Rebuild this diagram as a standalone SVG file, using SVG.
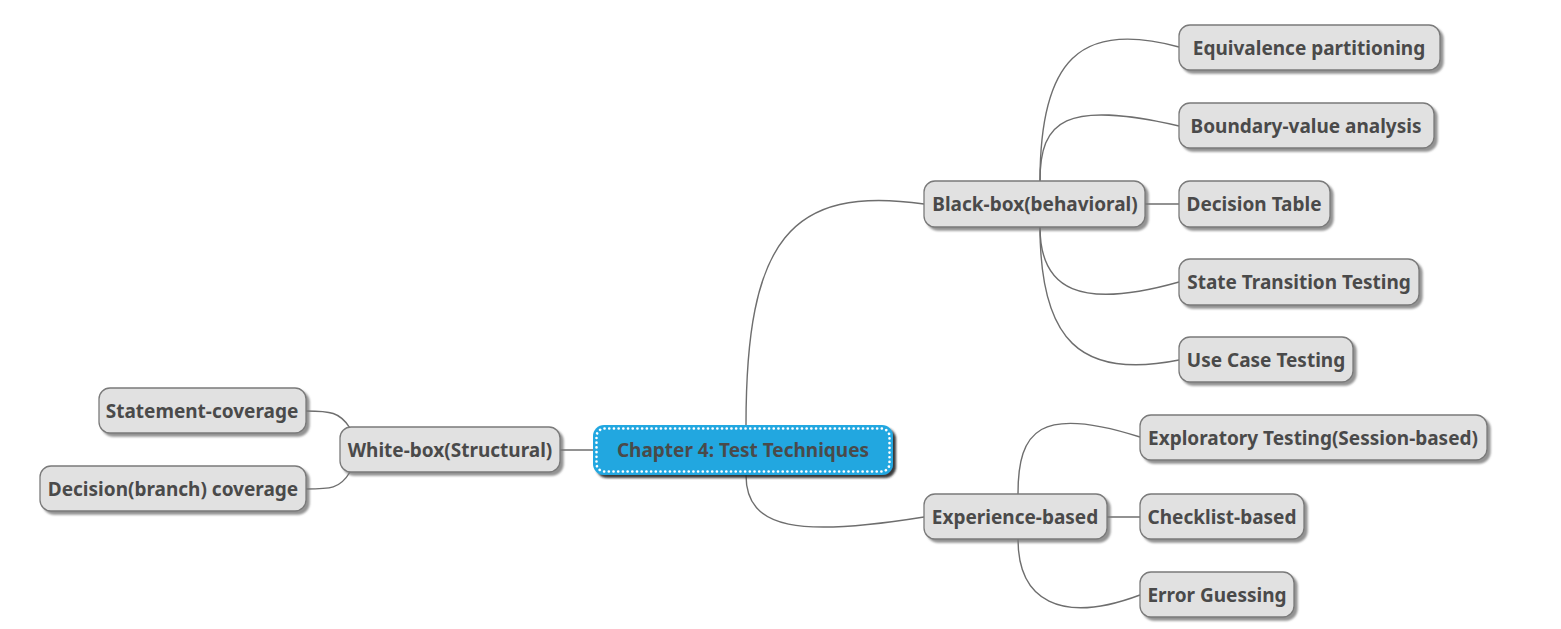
<svg xmlns="http://www.w3.org/2000/svg" width="1561" height="629" viewBox="0 0 1561 629">
<defs>
<filter id="sh" x="-10%" y="-20%" width="130%" height="160%"><feDropShadow dx="3" dy="3" stdDeviation="1.2" flood-color="#777" flood-opacity="0.8"/></filter>
<filter id="shc" x="-10%" y="-20%" width="130%" height="160%"><feDropShadow dx="3" dy="3" stdDeviation="1" flood-color="#222" flood-opacity="0.9"/></filter>
<style>
.n rect{fill:#e1e1e1;stroke:#7a7a7a;stroke-width:1.3;filter:url(#sh)}
.t{font-family:"Noto Sans","Open Sans",sans-serif;font-weight:bold;font-size:19px;fill:#4a4a4a;text-anchor:middle;dominant-baseline:central}
.c path{fill:none;stroke:#6e6e6e;stroke-width:1.4}
</style>
</defs>
<rect width="1561" height="629" fill="#fff"/>
<g class="c">
<path d="M746,425 C746,240 790,185 924,204"/>
<path d="M746,475 C746,530 800,537 924,517"/>
<path d="M593,450 L560,450"/>
<path d="M1040,181 C1040,60 1080,20 1179,47"/>
<path d="M1040,181 C1040,120 1065,100 1179,126"/>
<path d="M1145,204 L1179,204"/>
<path d="M1040,227 C1040,290 1080,310 1179,282"/>
<path d="M1040,227 C1040,340 1080,380 1179,360"/>
<path d="M1018,494 C1018,430 1040,405 1140,437"/>
<path d="M1107,517 L1140,517"/>
<path d="M1018,539 C1018,600 1060,625 1140,595"/>
<path d="M350,428 C340,412 330,411 306,411"/>
<path d="M350,472 C340,489 330,489 306,489"/>
</g>
<g id="central">
<rect x="593" y="425" width="300" height="50" rx="11" fill="#22a7e0" filter="url(#shc)"/>
<rect x="596.5" y="428.5" width="293" height="43" rx="8" fill="none" stroke="#fff" stroke-width="2.6" stroke-dasharray="0.1,4.6" stroke-linecap="round"/>
<text class="t" x="743" y="450">Chapter 4: Test Techniques</text>
</g>
<g id="blackbox" class="n"><rect x="924" y="181" width="221" height="46" rx="11"/><text class="t" x="1035" y="204">Black-box(behavioral)</text></g>
<g id="equiv" class="n"><rect x="1179" y="25" width="261" height="45" rx="11"/><text class="t" x="1309" y="47.5">Equivalence partitioning</text></g>
<g id="boundary" class="n"><rect x="1179" y="103" width="255" height="45" rx="11"/><text class="t" x="1306" y="125.5">Boundary-value analysis</text></g>
<g id="dectable" class="n"><rect x="1179" y="181" width="151" height="46" rx="11"/><text class="t" x="1254" y="204">Decision Table</text></g>
<g id="state" class="n"><rect x="1179" y="259" width="240" height="46" rx="11"/><text class="t" x="1299" y="282">State Transition Testing</text></g>
<g id="usecase" class="n"><rect x="1179" y="337" width="174" height="45" rx="11"/><text class="t" x="1266" y="359.5">Use Case Testing</text></g>
<g id="experience" class="n"><rect x="924" y="494" width="183" height="45" rx="11"/><text class="t" x="1015" y="516.5">Experience-based</text></g>
<g id="exploratory" class="n"><rect x="1140" y="415" width="347" height="45" rx="11"/><text class="t" x="1313" y="437.5">Exploratory Testing(Session-based)</text></g>
<g id="checklist" class="n"><rect x="1140" y="494" width="164" height="45" rx="11"/><text class="t" x="1222" y="516.5">Checklist-based</text></g>
<g id="error" class="n"><rect x="1140" y="572" width="154" height="45" rx="11"/><text class="t" x="1217" y="594.5">Error Guessing</text></g>
<g id="whitebox" class="n"><rect x="340" y="427" width="220" height="45" rx="11"/><text class="t" x="450" y="449.5">White-box(Structural)</text></g>
<g id="statement" class="n"><rect x="99" y="388" width="207" height="45" rx="11"/><text class="t" x="202" y="410.5">Statement-coverage</text></g>
<g id="decision" class="n"><rect x="40" y="466" width="266" height="45" rx="11"/><text class="t" x="173" y="488.5">Decision(branch) coverage</text></g>
</svg>
